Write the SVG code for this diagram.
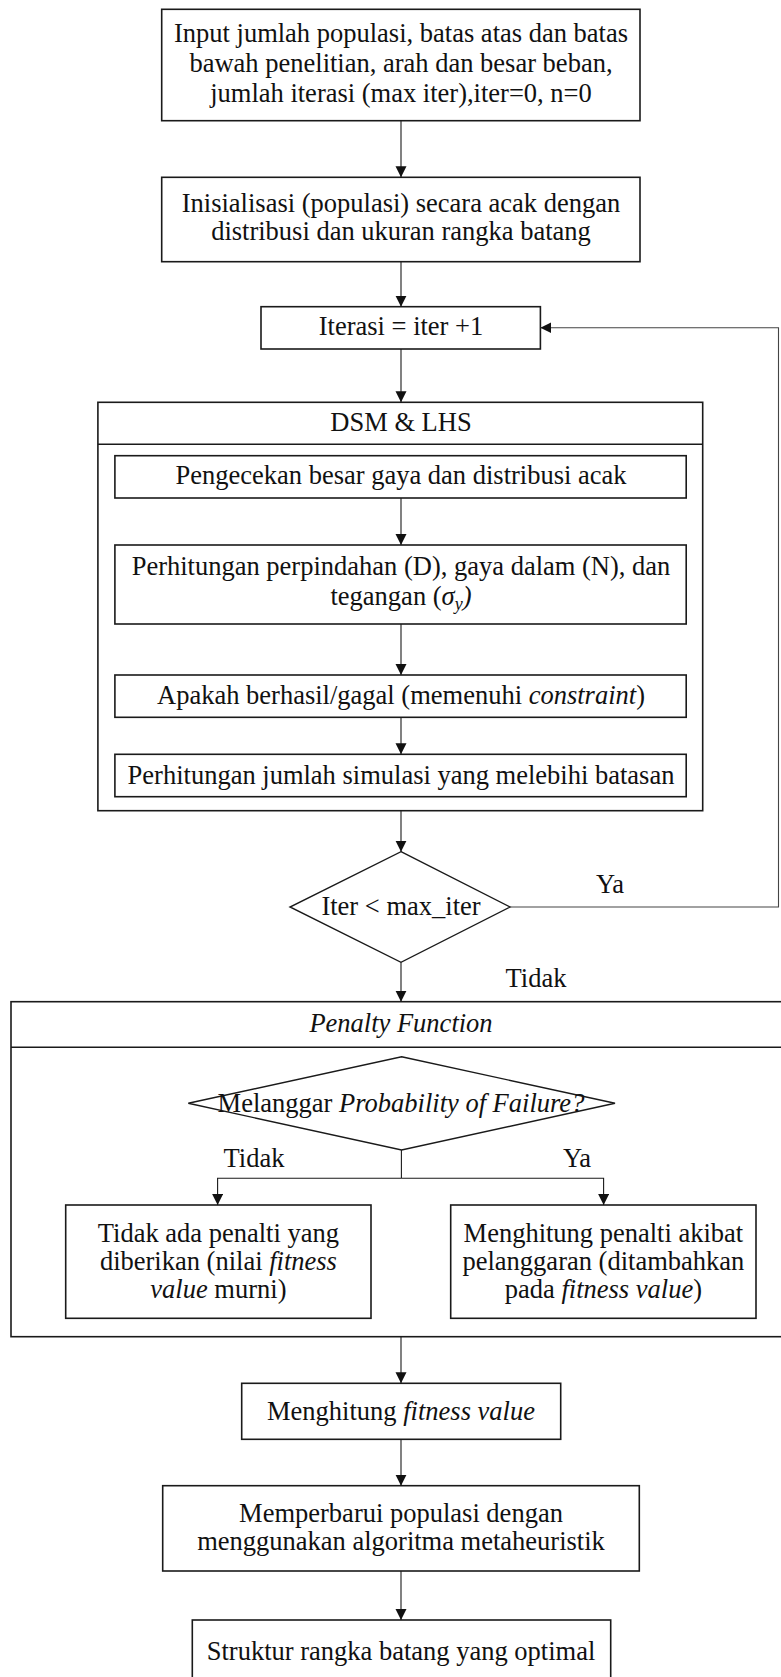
<svg xmlns="http://www.w3.org/2000/svg" width="781" height="1677" viewBox="0 0 781 1677">
<style>
  .box { fill: #fff; stroke: #1a1a1a; stroke-width: 1.6; }
  .frame { fill: none; stroke: #1a1a1a; stroke-width: 1.6; }
  .dia { fill: #fff; stroke: #1a1a1a; stroke-width: 1.4; }
  .con { fill: none; stroke: #1a1a1a; stroke-width: 1.1; }
  .fb { fill: none; stroke: #444; stroke-width: 1.1; }
  text { font-family: 'Liberation Serif', 'Times New Roman', Tinos, 'DejaVu Serif', serif; font-size: 26.5px; fill: #111; text-anchor: middle; }
  .i { font-style: italic; }
</style>
<defs>
  <marker id="arr" markerUnits="userSpaceOnUse" markerWidth="12" markerHeight="12" refX="11" refY="5.5" orient="auto">
    <path d="M0,0 L11,5.5 L0,11 z" fill="#111"/>
  </marker>
</defs>
<rect width="781" height="1677" fill="#fff"/>

<g id="n-dsm">
  <rect class="frame" x="97.9" y="402.3" width="604.8" height="408.4"/>
  <line class="frame" x1="97.9" y1="444.3" x2="702.7" y2="444.3"/>
  <text x="401" y="431">DSM &amp; LHS</text>
</g>

<g id="n-penalty">
  <rect class="frame" x="11" y="1001.7" width="790" height="335"/>
  <line class="frame" x1="11" y1="1047.3" x2="781" y2="1047.3"/>
  <text x="401" y="1032" class="i">Penalty Function</text>
</g>

<g id="n-input">
  <rect class="box" x="161.7" y="9.3" width="478.3" height="111.4"/>
  <text x="401" y="42">Input jumlah populasi, batas atas dan batas</text>
  <text x="401" y="72">bawah penelitian, arah dan besar beban,</text>
  <text x="401" y="102">jumlah iterasi (max iter),iter=0, n=0</text>
</g>

<g id="n-init">
  <rect class="box" x="161.7" y="177.3" width="478.3" height="84.4"/>
  <text x="401" y="211.7">Inisialisasi (populasi) secara acak dengan</text>
  <text x="401" y="240">distribusi dan ukuran rangka batang</text>
</g>

<g id="n-iter">
  <rect class="box" x="261" y="306.7" width="279.4" height="42.3"/>
  <text x="401" y="335">Iterasi = iter +1</text>
</g>

<g id="n-cek">
  <rect class="box" x="114.9" y="455.7" width="571.3" height="42.3"/>
  <text x="401" y="484">Pengecekan besar gaya dan distribusi acak</text>
</g>

<g id="n-hitung">
  <rect class="box" x="114.9" y="545" width="571.3" height="79"/>
  <text x="401" y="575">Perhitungan perpindahan (D), gaya dalam (N), dan</text>
  <text x="401" y="605">tegangan (<tspan class="i">σ</tspan><tspan class="i" font-size="18" dy="5">y</tspan><tspan class="i" dy="-5">)</tspan></text>
</g>

<g id="n-apakah">
  <rect class="box" x="114.9" y="675" width="571.3" height="42.3"/>
  <text x="401" y="703.5">Apakah berhasil/gagal (memenuhi <tspan class="i">constraint</tspan>)</text>
</g>

<g id="n-simulasi">
  <rect class="box" x="114.9" y="754.3" width="571.3" height="42.4"/>
  <text x="401" y="783.5">Perhitungan jumlah simulasi yang melebihi batasan</text>
</g>

<g id="n-cond">
  <polygon class="dia" points="401,851.7 510,907 401,962.3 290,907"/>
  <text x="401" y="915">Iter &lt; max_iter</text>
</g>

<g id="n-pof">
  <polygon class="dia" points="401.6,1056.7 615,1103.3 401.6,1150 188.3,1103.3"/>
  <text x="401" y="1112">Melanggar <tspan class="i">Probability of Failure?</tspan></text>
</g>

<g id="n-tidak">
  <rect class="box" x="65.7" y="1205" width="305.3" height="113.3"/>
  <text x="218.4" y="1241.7">Tidak ada penalti yang</text>
  <text x="218.4" y="1270">diberikan (nilai <tspan class="i">fitness</tspan></text>
  <text x="218.4" y="1298.3"><tspan class="i">value</tspan> murni)</text>
</g>

<g id="n-ya">
  <rect class="box" x="450.7" y="1205" width="305.3" height="113.3"/>
  <text x="603.4" y="1241.7">Menghitung penalti akibat</text>
  <text x="603.4" y="1270">pelanggaran (ditambahkan</text>
  <text x="603.4" y="1298.3">pada <tspan class="i">fitness value</tspan>)</text>
</g>

<g id="n-fitness">
  <rect class="box" x="241.7" y="1383.3" width="319" height="56"/>
  <text x="401" y="1420">Menghitung <tspan class="i">fitness value</tspan></text>
</g>

<g id="n-update">
  <rect class="box" x="162.7" y="1485.7" width="476.6" height="85.3"/>
  <text x="401" y="1521.7">Memperbarui populasi dengan</text>
  <text x="401" y="1550">menggunakan algoritma metaheuristik</text>
</g>

<g id="n-final">
  <rect class="box" x="192.3" y="1620" width="418.4" height="80"/>
  <text x="401" y="1660">Struktur rangka batang yang optimal</text>
</g>

<g id="connectors">
  <line class="con" x1="401" y1="120.7" x2="401" y2="177.3" marker-end="url(#arr)"/>
  <line class="con" x1="401" y1="261.7" x2="401" y2="306.7" marker-end="url(#arr)"/>
  <line class="con" x1="401" y1="349" x2="401" y2="402.3" marker-end="url(#arr)"/>
  <line class="con" x1="401" y1="498" x2="401" y2="545" marker-end="url(#arr)"/>
  <line class="con" x1="401" y1="624" x2="401" y2="675" marker-end="url(#arr)"/>
  <line class="con" x1="401" y1="717.3" x2="401" y2="754.3" marker-end="url(#arr)"/>
  <line class="con" x1="401" y1="810.7" x2="401" y2="851.7" marker-end="url(#arr)"/>
  <path class="fb" d="M510,907 H778.5 V327.7 H540.4" marker-end="url(#arr)"/>
  <line class="con" x1="401" y1="962.3" x2="401" y2="1001.7" marker-end="url(#arr)"/>
  <path class="con" d="M401.4,1150 V1178.3"/>
  <path class="con" d="M401.4,1178.3 H217.6 V1205" marker-end="url(#arr)"/>
  <path class="con" d="M401.4,1178.3 H603.6 V1205" marker-end="url(#arr)"/>
  <line class="con" x1="401" y1="1336.7" x2="401" y2="1383.3" marker-end="url(#arr)"/>
  <line class="con" x1="401" y1="1439.3" x2="401" y2="1485.7" marker-end="url(#arr)"/>
  <line class="con" x1="401" y1="1571" x2="401" y2="1620" marker-end="url(#arr)"/>
  <text x="610" y="893">Ya</text>
  <text x="536" y="987">Tidak</text>
  <text x="254" y="1167">Tidak</text>
  <text x="577" y="1167">Ya</text>
</g>
</svg>
